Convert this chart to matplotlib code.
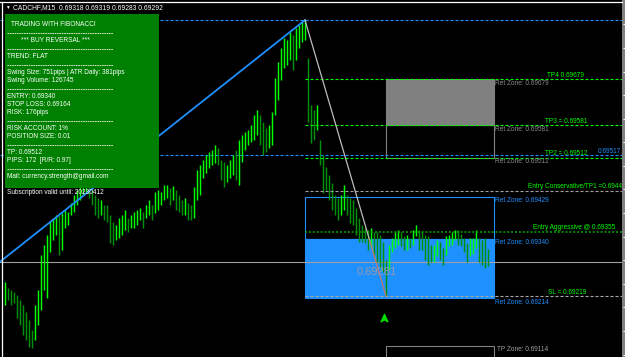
import numpy as np
import matplotlib
matplotlib.use("Agg")
import matplotlib.pyplot as plt
from matplotlib.patches import Rectangle
from matplotlib.path import Path
from matplotlib import transforms

# ---------------- data ----------------
symbol_header = "CADCHF,M15  0.69318 0.69319 0.69283 0.69292"

highs_pts = [69249, 69236, 69232, 69227, 69221, 69211, 69200, 69185, 69168, 69147,
             69200, 69232, 69306, 69327, 69348, 69376, 69384, 69391, 69391, 69395,
             69401, 69397, 69416, 69433, 69444, 69454, 69465, 69476, 69465, 69454,
             69433, 69427, 69423, 69412, 69412, 69391, 69376, 69370, 69384, 69391,
             69401, 69384, 69391, 69397, 69401, 69406, 69397, 69412, 69423, 69412,
             69440, 69444, 69440, 69454, 69454, 69448, 69452, 69444, 69433, 69423,
             69427, 69416, 69412, 69450, 69486, 69497, 69507, 69518, 69524, 69529,
             69539, 69533, 69507, 69503, 69497, 69507, 69518, 69529, 69550, 69560,
             69567, 69571, 69582, 69603, 69613, 69603, 69588, 69575, 69582, 69609,
             69681, 69715, 69745, 69766, 69762, 69779, 69772, 69787, 69794, 69800,
             69804, 69724, 69624, 69613, 69624, 69550, 69518, 69493, 69476, 69459,
             69433, 69427, 69433, 69454, 69433, 69427, 69423, 69406, 69384, 69370,
             69363, 69359, 69363, 69355, 69355, 69348, 69334, 69295, 69327, 69342,
             69355, 69359, 69355, 69346, 69348, 69342, 69359, 69370, 69359, 69355,
             69348, 69346, 69327, 69327, 69338, 69334, 69321, 69346, 69348, 69355,
             69359, 69359, 69351, 69342, 69331, 69342, 69342, 69359, 69342, 69338,
             69342, 69319]
lows_pts = [69200, 69211, 69200, 69204, 69172, 69158, 69136, 69126, 69111, 69109,
            69126, 69158, 69189, 69232, 69215, 69312, 69338, 69348, 69306, 69317,
            69363, 69370, 69391, 69397, 69412, 69423, 69433, 69440, 69427, 69412,
            69391, 69384, 69391, 69380, 69376, 69331, 69327, 69338, 69342, 69348,
            69359, 69355, 69363, 69363, 69370, 69380, 69363, 69384, 69391, 69380,
            69395, 69401, 69412, 69423, 69427, 69412, 69423, 69401, 69397, 69391,
            69391, 69380, 69380, 69384, 69423, 69433, 69469, 69480, 69490, 69497,
            69501, 69497, 69465, 69450, 69461, 69469, 69476, 69465, 69454, 69503,
            69529, 69539, 69546, 69550, 69560, 69539, 69518, 69524, 69533, 69539,
            69603, 69635, 69677, 69702, 69709, 69719, 69698, 69719, 69745, 69758,
            69762, 69588, 69543, 69550, 69571, 69497, 69437, 69444, 69423, 69401,
            69391, 69380, 69391, 69401, 69391, 69374, 69370, 69348, 69334, 69334,
            69331, 69317, 69321, 69306, 69291, 69278, 69270, 69219, 69274, 69312,
            69321, 69327, 69325, 69317, 69317, 69321, 69327, 69346, 69317, 69317,
            69295, 69285, 69291, 69291, 69304, 69295, 69285, 69306, 69325, 69327,
            69338, 69327, 69325, 69312, 69291, 69304, 69308, 69321, 69291, 69285,
            69278, 69283]

swing_low_idx, swing_low = -49, 0.69053
swing_high_idx, swing_high = 100, 0.69804
reversal_idx = 127
zone_end_idx = 163

tp_levels = [("TP4 0.69679", 0.69679), ("TP3 = 0.69581", 0.69581), ("TP2 = 0.69512", 0.69512)]
entry_conservative = ("Entry Conservative/TP1 =0.69442", 0.69442)
entry_aggressive = ("Entry Aggressive @ 0.69355", 0.69355)
stop_loss = ("SL = 0.69219", 0.69219)
bid_price = 0.69292
blue_level = 0.69517
gray_zones = [0.69679, 0.69581, 0.69512]
ret_zones = [0.69429, 0.69340, 0.69214]
tp_zone = 0.69114
zigzag_price = 0.69281
price_ticks = [0.69795 - 0.0005 * k for k in range(15)]

panel_texts = ["TRADING WITH FIBONACCI", "*** BUY REVERSAL ***", "TREND: FLAT",
               "Swing Size: 751pips | ATR Daily: 381pips", "Swing Volume: 126745",
               "ENTRY: 0.69340", "STOP LOSS: 0.69164", "RISK: 176pips",
               "RISK ACCOUNT: 1%", "POSITION SIZE: 0.01",
               "TP: 0.69512", "PIPS: 172  [R/R: 0.97]",
               "Mail: currency.strength@gmail.com"]
subscription = "Subscription valid until: 20230412"

highs = np.array(highs_pts) / 1e5
lows = np.array(lows_pts) / 1e5

# ---------------- styling ----------------
plt.rcParams['lines.scale_dashes'] = False
FONT = ['Liberation Sans', 'DejaVu Sans']
plt.rcParams['font.family'] = FONT
FS = 4.7

W, H = 625, 357
fig = plt.figure(figsize=(W / 100, H / 100), dpi=100, facecolor='black')
ax = fig.add_axes([0, 0, 1, 1])
ax.set_facecolor('black')
for s in ax.spines.values():
    s.set_visible(False)
ax.set_xticks([])
ax.set_yticks([])
BAR_PX, X0_PX = 3.0, 5.0
ax.set_xlim(-X0_PX / BAR_PX, (W - X0_PX) / BAR_PX)
ax.set_ylim(0.6908976, 0.698466)
xr = (W - X0_PX) / BAR_PX

LIME = '#00ff00'
DARK = '#00900a'
BLUE = '#1e90ff'
GRAY = '#808080'
dash = (0, (2.2, 1.4))

# bars
idx = np.arange(len(highs))
mids = (highs + lows) / 2
cols = [LIME if i == 0 or mids[i] >= mids[i - 1] else DARK for i in idx]
ax.vlines(idx, lows, highs, colors=cols, lw=1.05, zorder=3)

# zones
zw = zone_end_idx - reversal_idx
ax.add_patch(Rectangle((reversal_idx, gray_zones[1]), zw, gray_zones[0] - gray_zones[1],
                       facecolor=GRAY, edgecolor=GRAY, lw=0.8, zorder=2))
ax.add_patch(Rectangle((reversal_idx, gray_zones[2]), zw, gray_zones[1] - gray_zones[2],
                       fill=False, edgecolor=GRAY, lw=0.8, zorder=2))
bw = zone_end_idx - swing_high_idx
ax.add_patch(Rectangle((swing_high_idx, ret_zones[1]), bw, ret_zones[0] - ret_zones[1],
                       fill=False, edgecolor=BLUE, lw=0.8, zorder=2))
ax.add_patch(Rectangle((swing_high_idx, ret_zones[2]), bw, ret_zones[1] - ret_zones[2],
                       facecolor=BLUE, edgecolor=BLUE, lw=0.8, zorder=1))
ax.add_patch(Rectangle((reversal_idx, tp_zone - 0.001), zw, 0.001,
                       fill=False, edgecolor=GRAY, lw=0.8, zorder=2))

# full-width lines
ax.axhline(swing_high, color=BLUE, lw=0.8, ls=dash, zorder=2)
ax.axhline(blue_level, color=BLUE, lw=0.8, ls=dash, zorder=2)
ax.axhline(bid_price, color='#a0a0a0', lw=0.8, zorder=2)

# level lines from swing high
for _, lv in tp_levels:
    ax.hlines(lv, swing_high_idx, xr, color=LIME, lw=0.8, ls=dash, zorder=4)
ax.hlines(entry_conservative[1], swing_high_idx, xr, color='#a0a0a0', lw=0.8, ls=dash, zorder=4)
ax.hlines(stop_loss[1], swing_high_idx, xr, color='#a8a8a8', lw=0.8, ls=dash, zorder=4)
ax.hlines(entry_aggressive[1], swing_high_idx, xr, color='#00a000', lw=1.2,
          ls=(0, (1.4, 1.4)), zorder=4)

# swing line and retracement line
ax.plot([swing_low_idx, swing_high_idx], [swing_low, swing_high], color=BLUE, lw=1.3, zorder=5)
lo = lows[reversal_idx]
t = (swing_high - ret_zones[1]) / (swing_high - lo)
xm = swing_high_idx + t * (reversal_idx - swing_high_idx)
ax.plot([swing_high_idx, xm], [swing_high, ret_zones[1]], color='#bdbdbd', lw=0.9, zorder=5)
ax.plot([xm, reversal_idx], [ret_zones[1], lo], color='#c07a6a', lw=0.9, zorder=5)

# labels
def lab(x, y, s, dy, color, ha='left'):
    ax.annotate(s, xy=(x, y), xytext=(0, dy), textcoords='offset pixels',
                ha=ha, va='center', fontsize=FS, color=color, zorder=6)

for lv in gray_zones:
    lab(zone_end_idx + 0.4, lv, f"Ret Zone: {lv:.5f}", -4, '#8c8c8c')
for lv in ret_zones:
    lab(zone_end_idx + 0.4, lv, f"Ret Zone: {lv:.5f}", -4, BLUE)
lab(zone_end_idx + 1.0, tp_zone, f"TP Zone: {tp_zone:.5f}", -4, '#a0a0a0')

green_x = [180.7, 180.0, 180.0]
for (s, lv), gx in zip(tp_levels, green_x):
    lab(gx, lv, s, 4, LIME)
lab(174.3, entry_conservative[1], entry_conservative[0], 4.5, LIME)
lab(176.0, entry_aggressive[1], entry_aggressive[0], 4, LIME)
lab(181.0, stop_loss[1], stop_loss[0], 4, LIME)
lab(xr - 1.3, blue_level, f"{blue_level:.5f}", 3.5, BLUE, ha='right')

ax.text(reversal_idx - 3, zigzag_price, f"{zigzag_price:.5f}", ha='center', va='top',
        fontsize=8, color='#9a9aaa',
        family=['Liberation Sans Narrow', 'Liberation Sans', 'DejaVu Sans'], zorder=6)

# buy arrow
arrow = Path([(0, 1), (0.8, -0.8), (0, -0.3), (-0.8, -0.8), (0, 1)],
             [Path.MOVETO, Path.LINETO, Path.LINETO, Path.LINETO, Path.CLOSEPOLY])
tr = transforms.offset_copy(ax.transData, fig=fig, x=-2, y=-22, units='dots')
ax.plot([reversal_idx], [lo], marker=arrow, ms=6, color='#00dd00', transform=tr,
        ls='none', zorder=7)

# frame and price-axis ticks
ax.add_patch(Rectangle((622 / W, 0), 3 / W, 1, transform=ax.transAxes,
                       facecolor=GRAY, edgecolor='none', zorder=19))
blend = transforms.blended_transform_factory(ax.transAxes, ax.transData)
ax.hlines(price_ticks, 623 / W, 1, transform=blend, color='white', lw=0.8, zorder=20)

# overlay in pixel coordinates for panel/header/frame
ax2 = fig.add_axes([0, 0, 1, 1])
ax2.set_xlim(0, W)
ax2.set_ylim(H, 0)
ax2.axis('off')
ax2.patch.set_alpha(0)

ax2.plot([0, 622], [2, 2], color='white', lw=0.9)
ax2.plot([2, 2], [2, H], color='white', lw=0.9)

ax2.text(5, 7.5, "▼", fontsize=3.4, color='white', va='center', family=FONT)
ax2.text(13, 7.5, symbol_header, fontsize=4.9, color='white', va='center')

ax2.add_patch(Rectangle((5, 14), 154, 174, facecolor='#008000', edgecolor='none'))
text_pos = [(11, 24), (21, 40.5), (7, 56.5), (7, 72.5), (7, 80.5), (7, 96.5), (7, 104.5),
            (7, 112.5), (7, 128.5), (7, 136.5), (7, 153), (7, 161), (7, 177)]
for s, (x, y) in zip(panel_texts, text_pos):
    ax2.text(x, y, s, fontsize=FS, color='white', va='center')
for y in [33, 49, 65, 89, 121, 145, 169]:
    ax2.plot([7, 113], [y, y], color='#e8f4e8', lw=0.6, ls=(0, (1.2, 0.5)))
ax2.text(7, 193, subscription, fontsize=FS, color='white', va='center')

fig.savefig("out.png", dpi=100, facecolor='black')
